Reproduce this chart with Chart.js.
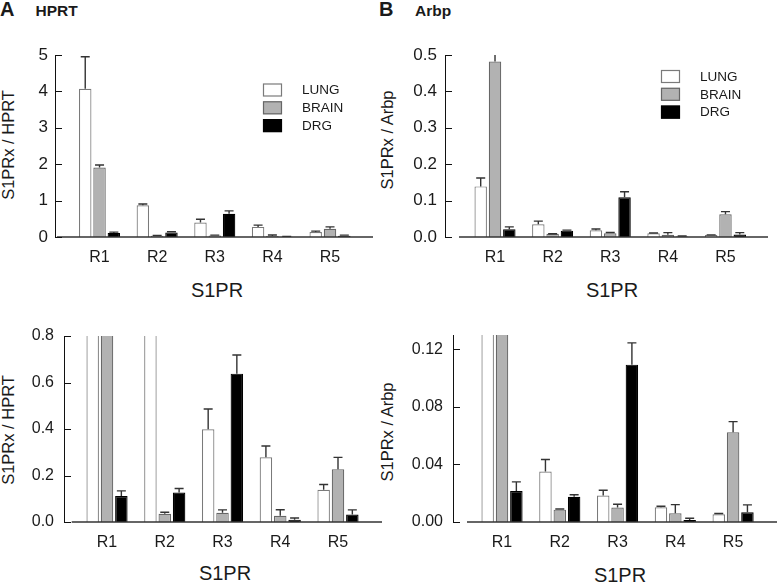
<!DOCTYPE html>
<html>
<head>
<meta charset="utf-8">
<script src="https://cdn.jsdelivr.net/npm/chart.js@4.4.0/dist/chart.umd.min.js"></script>
<style>
  body { margin: 0; background: #fff; width: 777px; height: 582px; position: relative; overflow: hidden;
         font-family: "Liberation Sans", Arial, sans-serif; color: #1a1a1a; }
  canvas { position: absolute; }
  .t { position: absolute; white-space: nowrap; line-height: 1; }
  .b { font-weight: bold; }
  .rot { transform: translate(-50%, -50%) rotate(-90deg); }
  .ctr { transform: translateX(-50%); }
</style>
</head>
<body>
<div class="t b" style="left:0px;top:-1px;font-size:20px">A</div>
<div class="t b" style="left:35.5px;top:3px;font-size:15.5px">HPRT</div>
<div class="t b" style="left:379px;top:-1px;font-size:20px">B</div>
<div class="t b" style="left:415px;top:3px;font-size:15.5px">Arbp</div>

<div class="t rot" style="left:8px;top:145px;font-size:16.5px">S1PRx / HPRT</div>
<div class="t rot" style="left:386.5px;top:140px;font-size:16.5px">S1PRx / Arbp</div>
<div class="t rot" style="left:8px;top:430px;font-size:16.5px">S1PRx / HPRT</div>
<div class="t rot" style="left:386.5px;top:432px;font-size:16.5px">S1PRx / Arbp</div>

<div class="t ctr" style="left:217px;top:280px;font-size:20px">S1PR</div>
<div class="t ctr" style="left:612px;top:280px;font-size:20px">S1PR</div>
<div class="t ctr" style="left:225px;top:563px;font-size:20px">S1PR</div>
<div class="t ctr" style="left:620px;top:565px;font-size:20px">S1PR</div>

<canvas id="a1" width="388" height="240" style="left:0px;top:40px"></canvas>
<canvas id="b1" width="387" height="240" style="left:390px;top:40px"></canvas>
<canvas id="a2" width="388" height="240" style="left:0px;top:320px"></canvas>
<canvas id="b2" width="387" height="240" style="left:390px;top:320px"></canvas>

<script>
const categories = ['R1', 'R2', 'R3', 'R4', 'R5'];
const tissues = ['LUNG', 'BRAIN', 'DRG'];

// S1PRx / HPRT
const hprtLung = [4.07, 0.87, 0.399, 0.278, 0.139];
const hprtLungErr = [0.88, 0.035, 0.087, 0.049, 0.022];
const hprtBrain = [1.91, 0.035, 0.040, 0.027, 0.227];
const hprtBrainErr = [0.07, 0.007, 0.012, 0.026, 0.051];
const hprtDrg = [0.112, 0.127, 0.638, 0.010, 0.032];
const hprtDrgErr = [0.022, 0.017, 0.080, 0.007, 0.020];

// S1PRx / Arbp
const arbpLung = [0.139, 0.0351, 0.0184, 0.0102, 0.0054];
const arbpLungErr = [0.023, 0.0084, 0.0037, 0.0007, 0.0005];
const arbpBrain = [0.482, 0.0086, 0.0100, 0.0061, 0.0624];
const arbpBrainErr = [0.025, 0.0004, 0.0023, 0.0060, 0.0074];
const arbpDrg = [0.0216, 0.0175, 0.1094, 0.0014, 0.0067];
const arbpDrgErr = [0.0063, 0.0014, 0.0151, 0.0012, 0.0052];

// y tick labels
const hprtTicks = [0, 1, 2, 3, 4, 5];
const arbpTicks = [0, 0.1, 0.2, 0.3, 0.4, 0.5];
const hprtZoomTicks = [0, 0.2, 0.4, 0.6, 0.8];
const arbpZoomTicks = [0, 0.04, 0.08, 0.12];

const fills = ['#ffffff', '#b2b2b2', '#000000'];
const borders = ['#7a7a7a', '#666666', '#000000'];
const FONT = '"Liberation Sans", Arial, sans-serif';

const decoPlugin = {
    id: 'deco',
    afterDatasetsDraw(chart, args, opts) {
        const ctx = chart.ctx;
        const area = chart.chartArea;
        const x = chart.scales.x;
        const y = chart.scales.y;

        // error bars, upper half only
        ctx.save();
        ctx.beginPath();
        ctx.rect(area.left, area.top, area.right - area.left, area.bottom - area.top);
        ctx.clip();
        ctx.strokeStyle = '#333';
        ctx.lineWidth = 1.4;
        chart.data.datasets.forEach(function (ds, k) {
            chart.getDatasetMeta(k).data.forEach(function (bar, i) {
                const top = y.getPixelForValue(ds.data[i].y + ds.errors[i]);
                ctx.beginPath();
                ctx.moveTo(bar.x, bar.y);
                ctx.lineTo(bar.x, top);
                ctx.moveTo(bar.x - 4.5, top);
                ctx.lineTo(bar.x + 4.5, top);
                ctx.stroke();
            });
        });
        ctx.restore();

        // axes
        ctx.save();
        const y0 = y.getPixelForValue(0);
        ctx.strokeStyle = '#333';
        ctx.lineWidth = 1.3;
        ctx.beginPath();
        ctx.moveTo(x.getPixelForValue(opts.xLineFrom), y0);
        ctx.lineTo(area.right, y0);
        ctx.stroke();

        ctx.strokeStyle = '#111';
        ctx.lineWidth = 1;
        ctx.beginPath();
        ctx.moveTo(area.left + 0.5, area.top);
        ctx.lineTo(area.left + 0.5, y0);
        y.ticks.forEach(function (t) {
            const py = Math.round(y.getPixelForValue(t.value)) + 0.5;
            ctx.moveTo(area.left, py);
            ctx.lineTo(area.left + 7, py);
        });
        ctx.stroke();
        ctx.restore();

        // legend
        if (opts.legend) {
            ctx.save();
            ctx.font = '13.5px ' + FONT;
            ctx.textBaseline = 'middle';
            chart.data.datasets.forEach(function (ds, k) {
                const bx = opts.legend.x;
                const by = opts.legend.y + k * 17.8;
                ctx.fillStyle = ds.backgroundColor;
                ctx.fillRect(bx, by, 19, 13);
                ctx.strokeStyle = ds.borderColor;
                ctx.lineWidth = 1.2;
                ctx.strokeRect(bx + 0.5, by + 0.5, 18, 12);
                ctx.fillStyle = '#1a1a1a';
                ctx.fillText(ds.label, bx + 39, by + 7);
            });
            ctx.restore();
        }
    }
};

function makePanel(id, p) {
    const canvas = document.getElementById(id);
    const cw = canvas.width;
    const ch = canvas.height;
    const cx = parseFloat(canvas.style.left);
    const cy = parseFloat(canvas.style.top);

    return new Chart(canvas, {
        type: 'bar',
        data: {
            datasets: tissues.map(function (t, k) {
                return {
                    label: t,
                    data: categories.map(function (c, i) {
                        return { x: i + 1, y: p.values[k][i] };
                    }),
                    errors: p.errors[k],
                    backgroundColor: fills[k],
                    borderColor: borders[k],
                    borderWidth: 1.2,
                    borderSkipped: 'bottom',
                    clip: 0,
                    categoryPercentage: 0.745,
                    barPercentage: 0.87
                };
            })
        },
        options: {
            responsive: false,
            animation: false,
            events: [],
            layout: {
                padding: { top: p.area.top - cy, right: cx + cw - p.area.right, bottom: 0, left: 0 }
            },
            plugins: {
                legend: { display: false },
                tooltip: { enabled: false },
                deco: { xLineFrom: p.xLineFrom, legend: p.legend }
            },
            scales: {
                x: {
                    type: 'linear',
                    offset: false,
                    min: p.xMin,
                    max: p.xMax,
                    grid: { display: false, drawTicks: false, offset: false },
                    border: { display: false },
                    afterBuildTicks: function (scale) {
                        scale.ticks = categories.map(function (c, i) { return { value: i + 1 }; });
                    },
                    afterFit: function (scale) {
                        scale.height = cy + ch - p.area.bottom;
                        scale.paddingLeft = 0;
                        scale.paddingRight = 0;
                    },
                    ticks: {
                        autoSkip: false,
                        maxRotation: 0,
                        padding: 11,
                        color: '#1a1a1a',
                        font: { family: FONT, size: 16 },
                        callback: function (v) { return categories[v - 1]; }
                    }
                },
                y: {
                    min: 0,
                    max: p.yMax,
                    grid: { display: false, drawTicks: false },
                    border: { display: false },
                    afterBuildTicks: function (scale) {
                        scale.ticks = p.yTicks.map(function (v) { return { value: v }; });
                    },
                    afterFit: function (scale) {
                        scale.width = p.area.left - cx;
                        scale.paddingTop = 0;
                        scale.paddingBottom = 0;
                    },
                    ticks: {
                        padding: p.yPad,
                        color: '#1a1a1a',
                        font: { family: FONT, size: p.yFont },
                        callback: function (v) { return v.toFixed(p.decimals); }
                    }
                }
            }
        },
        plugins: [decoPlugin]
    });
}

makePanel('a1', {
    values: [hprtLung, hprtBrain, hprtDrg],
    errors: [hprtLungErr, hprtBrainErr, hprtDrgErr],
    yMax: 5, yTicks: hprtTicks, decimals: 0, yFont: 17, yPad: 7,
    xMin: 0.227, xMax: 5.746, xLineFrom: 0.26,
    area: { left: 55, top: 55, right: 373, bottom: 237 },
    legend: { x: 263, y: 43.5 }
});

makePanel('b1', {
    values: [arbpLung, arbpBrain, arbpDrg],
    errors: [arbpLungErr, arbpBrainErr, arbpDrgErr],
    yMax: 0.5, yTicks: arbpTicks, decimals: 1, yFont: 17, yPad: 8,
    xMin: 0.132, xMax: 5.738, xLineFrom: 0.375,
    area: { left: 445, top: 55, right: 768, bottom: 237 },
    legend: { x: 271, y: 30 }
});

makePanel('a2', {
    values: [hprtLung, hprtBrain, hprtDrg],
    errors: [hprtLungErr, hprtBrainErr, hprtDrgErr],
    yMax: 0.8, yTicks: hprtZoomTicks, decimals: 1, yFont: 16, yPad: 10,
    xMin: 0.255, xMax: 5.762, xLineFrom: 0.388,
    area: { left: 64, top: 336, right: 382, bottom: 522 },
    legend: null
});

makePanel('b2', {
    values: [arbpLung, arbpBrain, arbpDrg],
    errors: [arbpLungErr, arbpBrainErr, arbpDrgErr],
    yMax: 0.13, yTicks: arbpZoomTicks, decimals: 2, yFont: 16, yPad: 10,
    xMin: 0.1515, xMax: 5.76, xLineFrom: 0.394,
    area: { left: 453, top: 335, right: 777, bottom: 522 },
    legend: null
});
</script>
</body>
</html>
